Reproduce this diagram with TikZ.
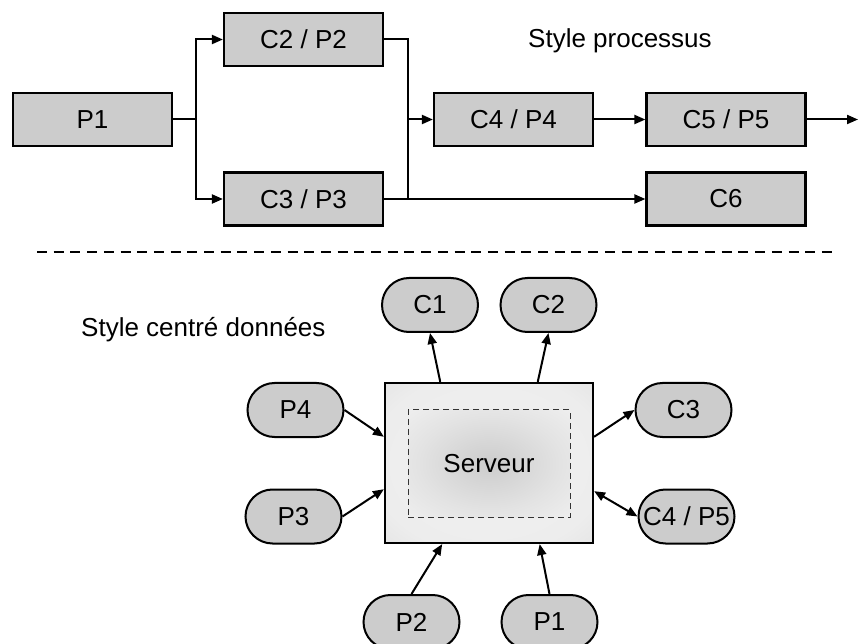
\documentclass[tikz,border=0pt]{standalone}
\usepackage{fontspec}
\setmainfont{Liberation Sans}
\usepackage{tikz}
\usetikzlibrary{shapes.misc,arrows.meta}
\newcommand{\lblfont}{\fontsize{26}{30}\selectfont}
\pgfdeclareradialshading{srvouter}{\pgfpoint{0bp}{0bp}}{color(0bp)=(gray!12); color(28bp)=(gray!14); color(50bp)=(gray!30); color(70bp)=(gray!36)}
\pgfdeclareradialshading{srvinner}{\pgfpoint{0bp}{0bp}}{color(0bp)=(gray!40); color(22bp)=(gray!22); color(45bp)=(gray!7); color(70bp)=(gray!5)}
\tikzstyle{procbox}=[rectangle,
	line width=2.2pt,
	minimum width=159pt,
	minimum height=53pt,
	inner sep=0pt,
	draw=black,
	fill=gray!40,
	font=\lblfont]
\tikzstyle{pill}=[rounded rectangle,
	line width=2pt,
	minimum width=96pt,
	minimum height=54pt,
	inner sep=0pt,
	draw=black,
	fill=gray!40,
	font=\lblfont]
\tikzstyle{link}=[line width=2pt,
	-{Triangle[length=11pt,width=9pt]}]
\tikzstyle{wire}=[line width=2pt]

\begin{document}
\begin{tikzpicture}[x=1pt,y=-1pt]
	\useasboundingbox (0,0) rectangle (860,644);

	% style processus
	\node (p1) [procbox] at (92.5,119.5) {P1};
	\node (c2p2) [procbox] at (303.5,39.5) {C2 / P2};
	\node (c3p3) [procbox] at (303.5,199) {C3 / P3};
	\node (c4p4) [procbox] at (513.5,119.5) {C4 / P4};
	\node (c5p5) [procbox] at (726,119.5) {C5 / P5};
	\node (c6) [procbox] at (726,199) {C6};
	\node (titleproc) [anchor=base west, font=\lblfont, inner sep=0pt] at (528,48) {Style processus};

	\coordinate (split) at (196,119.5);
	\coordinate (join) at (408,119.5);
	\coordinate (exit) at (858,119.5);

	\draw[wire] (p1.east) -- (split);
	\draw[link] (split) |- (c2p2.west);
	\draw[link] (split) |- (c3p3.west);
	\draw[wire] (c2p2.east) -| (join |- c3p3.east);
	\draw[link] (join) -- (c4p4.west);
	\draw[link] (c3p3.east) -- (c6.west);
	\draw[link] (c4p4.east) -- (c5p5.west);
	\draw[link] (c5p5.east) -- (exit);

	\coordinate (sepleft) at (37,252);
	\coordinate (sepright) at (833,252);
	\draw[line width=2.5pt, dash pattern=on 10pt off 6.7pt] (sepleft) -- (sepright);

	% style centre donnees
	\node (titledata) [anchor=base west, font=\lblfont, inner sep=0pt] at (81,337) {Style centré données};

	\node (srv) [rectangle, line width=2.2pt, draw=black, minimum width=208pt, minimum height=160pt,
		shading=srvouter] at (489,463) {};
	\node (srvin) [rectangle, draw=black!80, line width=1pt, dash pattern=on 6pt off 4pt,
		minimum width=162pt, minimum height=107pt, shading=srvinner,
		font=\lblfont] at (489,463.5) {Serveur};

	\node (c1) [pill] at (430,305) {C1};
	\node (c2) [pill] at (548.5,305) {C2};
	\node (p4) [pill] at (295.5,410) {P4};
	\node (c3) [pill] at (683.5,410) {C3};
	\node (p3) [pill] at (293.5,516.5) {P3};
	\node (c4p5) [pill] at (686.5,516.5) {C4 / P5};
	\node (p2) [pill] at (411.5,622) {P2};
	\node (p1b) [pill] at (549.5,622) {P1};

	\draw[link] (srv.121.5) -- (c1.south);
	\draw[link] (srv.59.6) -- (c2.south);
	\draw[link] (p4.east) -- (srv.166);
	\draw[link] (p3.east) -- (srv.194.5);
	\draw[link] (srv.14.6) -- (c3.west);
	\draw[link, {Triangle[length=11pt,width=9pt]}-{Triangle[length=11pt,width=9pt]}] (srv.-15) -- (c4p5.west);
	\draw[link] (p2.north) -- (srv.240);
	\draw[link] (p1b.north) -- (srv.302.5);
\end{tikzpicture}
\end{document}
